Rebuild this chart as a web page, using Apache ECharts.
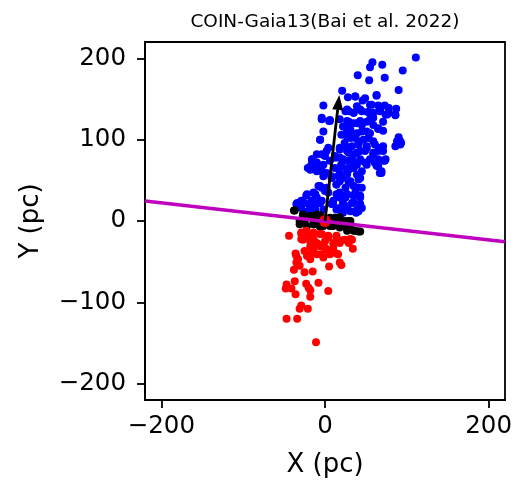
<!DOCTYPE html>
<html>
<head>
<meta charset="utf-8">
<script src="https://cdn.jsdelivr.net/npm/echarts@6/dist/echarts.min.js"></script>
<style>
  html, body { margin: 0; padding: 0; background: #fff; }
  #chart { width: 516px; height: 484px; }
</style>
</head>
<body>
<div id="chart"></div>
<script>
// Stars above the plane (blue), in the plane (black), below the plane (red), positions in pc
const BLUE = [
  [111,201],[58,195],[55,189],[70,192],[95,185],[40,179],[54,173],[73,176],[90,161],[21,160],
  [63,155],[28,152],[37,153],[46,148],[55,143],[39,141],[65,142],[73,142],[78,139],[87,138],
  [76,131],[86,130],[59,133],[67,135],[29,135],[43,137],[52,134],[35,133],[-2,142],[-4,125],
  [5,123],[27,123],[18,125],[35,120],[43,123],[55,125],[59,118],[65,114],[71,111],[51,110],
  [39,108],[27,112],[20,106],[31,102],[41,98],[-2,110],[-6,100],[90,103],[93,96],[86,92],
  [59,98],[69,90],[71,86],[59,84],[51,90],[43,86],[35,82],[27,86],[18,90],[12,80],
  [2,86],[0,80],[18,78],[27,74],[35,72],[43,76],[73,74],[61,72],[65,67],[69,59],
  [-10,82],[-15,76],[-21,65],[-14,65],[-2,69],[-4,61],[2,59],[8,55],[18,59],[27,61],
  [35,65],[41,51],[31,49],[22,53],[14,45],[35,43],[45,41],[-6,43],[0,37],[-14,35],
  [-10,29],[-23,31],[27,33],[18,29],[35,31],[43,21],[45,16],[38,10],[-35,21],[-27,23],
  [-18,18],[-10,21],[-4,25],[10,21],[18,16],[27,18],[14,14],[22,10],[-21,12],[-12,14],
  [-29,16],[27,137],[35,133],[45,135],[55,133],[67,137],[78,133],[6,124],[29,122],[39,120],
  [51,122],[59,127],[71,122],[22,116],[31,112],[45,110],[55,108],[65,113],[27,104],[37,102],
  [47,100],[24,96],[33,92],[41,96],[51,92],[61,94],[71,92],[92,98],[18,88],[29,84],
  [39,84],[49,86],[59,82],[14,78],[22,76],[33,76],[43,74],[55,76],[65,76],[-16,76],
  [-10,72],[6,74],[20,69],[39,69],[51,69],[63,68],[-18,67],[-10,61],[-4,67],[12,65],
  [20,67],[29,65],[37,69],[49,72],[63,69],[67,59],[-2,55],[16,55],[27,57],[43,53],
  [-8,43],[2,41],[14,45],[25,41],[-22,33],[-12,33],[18,35],[27,33],[37,35],[43,29],
  [-34,22],[-26,22],[-16,25],[-6,22],[10,25],[22,22],[33,22],[41,12],[31,12],[22,14],
  [-14,16],[-2,14],[-4,127],[6,123],[-6,100],[25,135],[29,120],[35,106],[45,118],[53,102],
  [41,94],[25,92],[4,90],[-4,82],[-16,74],[-18,63],[-8,63],[12,78],[20,69],[29,63],
  [39,57],[45,61],[61,72],[74,76],[69,61],[8,53],[18,49],[29,47],[41,41],[-4,41],
  [-12,33],[4,35],[14,33],[25,29],[35,23],[43,31],[-29,25],[-20,21],[-8,25],[8,21],
  [20,16],[39,14],[57,143],[67,137],[74,131],[86,131],[88,98],[92,94],[65,86],[71,74],
  [49,151],[37,153],[63,154]
];

const BLACK = [
  [-37,13],[-27,8],[-18,6],[-10,8],[-25,0],[-14,0],[-6,2],[4,0],[12,4],[18,2],
  [25,0],[31,0],[14,-4],[23,-6],[31,-8],[37,-12],[43,-13],[27,-12],[-10,-4],[-2,-6],
  [6,-6],[-22,-6],[-31,0],[-38,13],[-27,7],[-31,-4],[-16,6],[-6,7],[6,4],[18,5],
  [29,0],[35,-12],[41,-13],[31,-10],[18,-8],[10,-6],[-6,-7],[-14,-4]
];

const RED = [
  [-44,-18],[-29,-16],[-23,-12],[-14,-14],[-4,-16],[4,-18],[14,-20],[24,-23],[33,-23],[18,-27],
  [29,-27],[-27,-23],[-18,-25],[-10,-27],[0,-25],[-14,-33],[-6,-31],[2,-35],[10,-33],[-25,-37],
  [-16,-39],[-4,-41],[6,-41],[14,-40],[34,-34],[-36,-40],[-33,-47],[-35,-51],[-18,-47],[-38,-60],
  [-25,-63],[-15,-62],[5,-56],[20,-54],[-37,-74],[-23,-77],[-8,-76],[-47,-78],[-48,-83],[-41,-83],
  [-20,-82],[-18,-85],[4,-86],[-36,-90],[-18,-93],[-29,-104],[-31,-108],[-21,-108],[-47,-120],[-34,-120],
  [-11,-149],[-29,-14],[-29,-22],[-20,-18],[-14,-22],[-6,-16],[4,-20],[14,-18],[-18,-31],[-8,-29],
  [0,-33],[10,-27],[20,-24],[31,-22],[-35,-43],[-22,-43],[-10,-41],[-2,-45],[6,-39],[16,-41],
  [18,-51],[-31,-55]
];

// Cluster centre
const CENTER = [[0, 0]];

// Projected plane (two end points across the panel)
const PLANE = [[-220, 24.5], [220, -25.5]];

// Direction arrow: start x, start y, tip x, tip y
const ARROW = [[0, 0, 17.5, 155]];

const X_TICKS = [-200, 0, 200];
const Y_TICKS = [-200, -100, 0, 100, 200];

const FONT = 'DejaVu Sans';
const fmt = v => (v < 0 ? '\u2212' + Math.abs(v) : String(v));

function axis(name, ticks, labelMargin, nameGap) {
  return {
    type: 'value',
    min: -220,
    max: 220,
    name: name,
    nameLocation: 'middle',
    nameGap: nameGap,
    nameTextStyle: { color: '#000', fontSize: 26, fontFamily: FONT },
    axisLine: { show: true, onZero: false, lineStyle: { color: '#000', width: 1.8 } },
    axisTick: { show: true, length: 8, customValues: ticks, lineStyle: { color: '#000', width: 1.8 } },
    axisLabel: { customValues: ticks, formatter: fmt, color: '#000', fontSize: 24.5, fontFamily: FONT, margin: labelMargin },
    splitLine: { show: false }
  };
}

const dot = color => ({ color: color, opacity: 1 });

const chart = echarts.init(document.getElementById('chart'), null, { renderer: 'canvas' });

chart.setOption({
  animation: false,
  backgroundColor: '#fff',
  title: {
    text: 'COIN-Gaia13(Bai et al. 2022)',
    left: 320,
    textAlign: 'center',
    top: 8,
    textStyle: { color: '#000', fontSize: 18.5, fontWeight: 'normal', fontFamily: FONT }
  },
  grid: {
    left: 145, right: 11, top: 42, bottom: 84,
    show: true, borderColor: '#000', borderWidth: 1.8, backgroundColor: 'transparent'
  },
  xAxis: axis('X (pc)', X_TICKS, 14, 52),
  yAxis: axis('Y (pc)', Y_TICKS, 19, 101),
  series: [
    { type: 'scatter', data: BLUE, symbolSize: 8, z: 2, itemStyle: dot('#0000ff') },
    { type: 'scatter', data: BLACK, symbolSize: 8, z: 3, itemStyle: dot('#000000') },
    { type: 'scatter', data: RED, symbolSize: 8, z: 4, itemStyle: dot('#ff0000') },
    { type: 'scatter', data: CENTER, symbolSize: 12, z: 5, itemStyle: dot('#ff0000') },
    {
      type: 'line', data: PLANE, symbol: 'none', z: 6,
      lineStyle: { color: '#bf00bf', width: 3.5 }
    },
    {
      type: 'custom',
      data: ARROW,
      z: 7,
      encode: { x: [0, 2], y: [1, 3] },
      renderItem: function (params, api) {
        const p0 = api.coord([api.value(0), api.value(1)]);
        const p1 = api.coord([api.value(2), api.value(3)]);
        const dx = p1[0] - p0[0], dy = p1[1] - p0[1];
        const len = Math.sqrt(dx * dx + dy * dy);
        const ux = dx / len, uy = dy / len;
        const headLen = 15, halfW = 5.5;
        const bx = p1[0] - ux * headLen, by = p1[1] - uy * headLen;
        const px = -uy, py = ux;
        return {
          type: 'group',
          children: [
            { type: 'line', shape: { x1: p0[0], y1: p0[1], x2: bx, y2: by },
              style: { stroke: '#000', lineWidth: 2.8 } },
            { type: 'polygon',
              shape: { points: [[p1[0], p1[1]], [bx + px * halfW, by + py * halfW], [bx - px * halfW, by - py * halfW]] },
              style: { fill: '#000' } }
          ]
        };
      }
    }
  ]
});
</script>
</body>
</html>
